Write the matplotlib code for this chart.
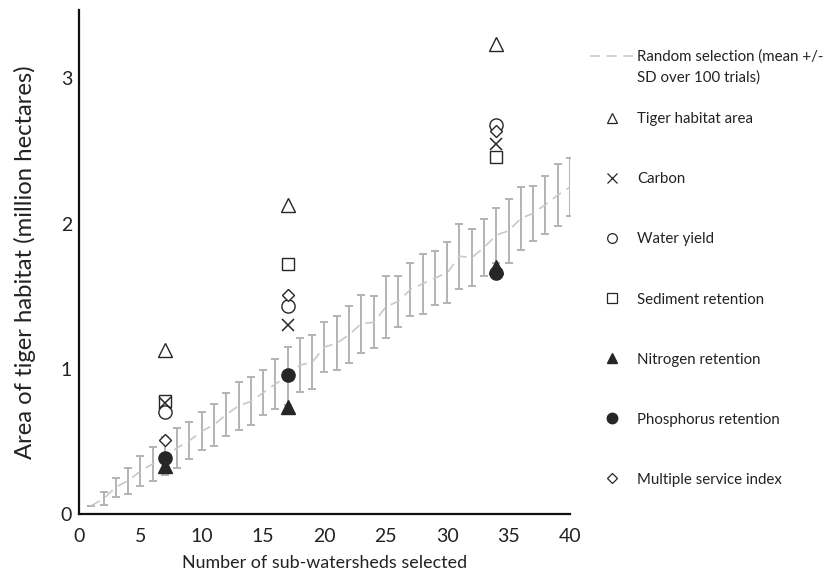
import matplotlib
matplotlib.use("Agg")
import matplotlib.pyplot as plt
from matplotlib.lines import Line2D
from matplotlib.legend_handler import HandlerLine2D

plt.rcParams['font.family'] = ['Lato', 'DejaVu Sans']

# Random selection: number of sub-watersheds, mean, SD
rand_x = list(range(1, 41))
rand_mean = [0.057, 0.105, 0.185, 0.23, 0.295, 0.345, 0.40, 0.455, 0.505, 0.57,
             0.615, 0.685, 0.745, 0.775, 0.835, 0.895, 0.95, 1.025, 1.045, 1.15,
             1.175, 1.235, 1.31, 1.32, 1.425, 1.465, 1.545, 1.585, 1.625, 1.66,
             1.775, 1.765, 1.835, 1.92, 1.95, 2.035, 2.07, 2.13, 2.195, 2.25]
rand_sd = [0.0, 0.045, 0.065, 0.09, 0.105, 0.115, 0.13, 0.135, 0.125, 0.13,
           0.145, 0.145, 0.165, 0.165, 0.155, 0.175, 0.2, 0.185, 0.185, 0.17,
           0.185, 0.195, 0.2, 0.18, 0.215, 0.175, 0.185, 0.205, 0.185, 0.21,
           0.225, 0.195, 0.195, 0.19, 0.22, 0.215, 0.19, 0.2, 0.215, 0.2]

# Optimised selections
sel_x = [7, 17, 34]
tiger = [1.13, 2.13, 3.235]
carbon = [0.765, 1.30, 2.55]
water = [0.70, 1.43, 2.68]
sediment = [0.78, 1.72, 2.455]
nitrogen = [0.33, 0.74, 1.70]
phosphorus = [0.385, 0.96, 1.66]
multiple = [0.51, 1.51, 2.64]

fig = plt.figure(figsize=(8.24, 5.75), dpi=100)
ax = fig.add_axes([0.0959, 0.1061, 0.6917 - 0.0959, 0.9826 - 0.1061])

grey = '#b3b3b3'
dash_col = '#c8c8c8'
ax.errorbar(rand_x, rand_mean, yerr=rand_sd, fmt='none', ecolor=grey,
            elinewidth=1.4, capsize=3, capthick=1.4, zorder=2)
ax.plot(rand_x, rand_mean, color=dash_col, lw=1.2, ls=(0, (6, 4)), zorder=3)

dark = '#262626'
mk = dict(ls='none', zorder=5)
ax.plot(sel_x, tiger, marker='^', ms=9.5, mfc='white', mec=dark, mew=1.0, **mk)
ax.plot(sel_x, sediment, marker='s', ms=9, mfc='white', mec=dark, mew=1.0, **mk)
ax.plot(sel_x, water, marker='o', ms=9.5, mfc='white', mec=dark, mew=1.0, **mk)
ax.plot(sel_x, multiple, marker='D', ms=6.5, mfc='white', mec=dark, mew=1.0, **mk)
ax.plot(sel_x, carbon, marker='x', ms=9, mec=dark, mew=1.1, **mk)
ax.plot(sel_x, nitrogen, marker='^', ms=9.5, mfc=dark, mec=dark, **mk)
ax.plot(sel_x, phosphorus, marker='o', ms=9.5, mfc=dark, mec=dark, **mk)

ax.set_xlim(0, 40)
ax.set_ylim(0, 3.47)
ax.set_xticks(range(0, 41, 5))
ax.set_yticks([0, 1, 2, 3])
ax.tick_params(length=0, labelsize=14, colors='#222222')
ax.tick_params(axis='x', pad=10)
ax.tick_params(axis='y', pad=5)
for s in ['top', 'right']:
    ax.spines[s].set_visible(False)
for s in ['left', 'bottom']:
    ax.spines[s].set_linewidth(1.6)
    ax.spines[s].set_color('#111111')

ax.set_xlabel('Number of sub-watersheds selected', fontsize=12.9, color='#222222', labelpad=7)
ax.set_ylabel('Area of tiger habitat (million hectares)', fontsize=17.2, color='#222222', labelpad=18)


class TopHandler(HandlerLine2D):
    """Place the legend line level with the first line of a two-line label."""
    def create_artists(self, legend, orig_handle, xdescent, ydescent, width,
                       height, fontsize, trans):
        arts = super().create_artists(legend, orig_handle, xdescent, ydescent,
                                      width, height, fontsize, trans)
        for a in arts:
            a.set_ydata([y + 0.78 * fontsize for y in a.get_ydata()])
        return arts


lfs = 10.8
rand_handle = Line2D([], [], color=dash_col, lw=1.2, ls=(0, (6, 4)))
leg1 = fig.legend([rand_handle], ['Random selection (mean +/-\nSD over 100 trials)'],
                  loc='upper left', bbox_to_anchor=(0.700, 0.937), frameon=False,
                  fontsize=lfs, handlelength=2.85, handletextpad=0.27,
                  labelcolor='#222222', handler_map={rand_handle: TopHandler()})
for t in leg1.get_texts():
    t.set_linespacing(1.55)

lm = dict(ls='none', mec=dark)
handles = [
    Line2D([], [], marker='^', ms=7, mfc='white', mew=0.9, **lm),
    Line2D([], [], marker='x', ms=7, mew=0.9, **lm),
    Line2D([], [], marker='o', ms=7, mfc='white', mew=0.9, **lm),
    Line2D([], [], marker='s', ms=7, mfc='white', mew=0.9, **lm),
    Line2D([], [], marker='^', ms=7, mfc=dark, **lm),
    Line2D([], [], marker='o', ms=7.5, mfc=dark, **lm),
    Line2D([], [], marker='D', ms=5, mfc='white', mew=0.9, **lm),
]
labels = ['Tiger habitat area', 'Carbon', 'Water yield', 'Sediment retention',
          'Nitrogen retention', 'Phosphorus retention', 'Multiple service index']
fig.legend(handles, labels, loc='upper left', bbox_to_anchor=(0.700, 0.828),
           frameon=False, fontsize=lfs, labelspacing=3.07, handlelength=2.85,
           handletextpad=0.27, labelcolor='#222222')

fig.savefig('out.png', dpi=100)
